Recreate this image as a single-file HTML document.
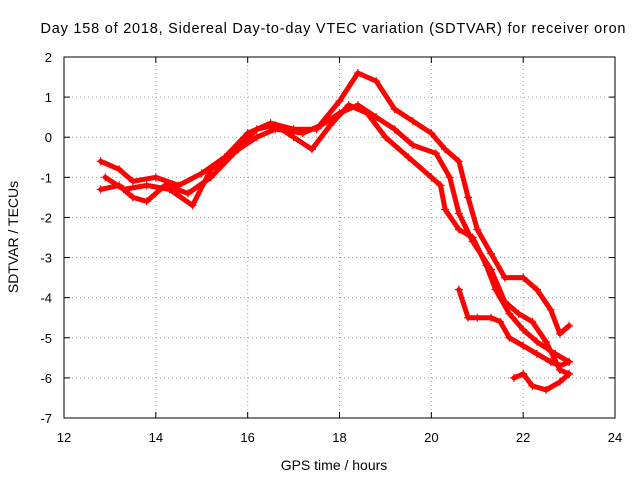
<!DOCTYPE html>
<html><head><meta charset="utf-8"><style>
body{margin:0;background:#fff}
svg{display:block;font-family:"Liberation Sans",sans-serif}
</style></head><body>
<svg id="chart" width="640" height="480">
<text x="333" y="33" text-anchor="middle" font-size="14.5" textLength="585" lengthAdjust="spacing">Day 158 of 2018, Sidereal Day-to-day VTEC variation (SDTVAR) for receiver oron</text>
<g id="grid"></g>
<g id="ticks"></g>
<g id="series"></g>
<rect x="64" y="57" width="551" height="361" fill="none" stroke="#000" stroke-width="1"/>
<text x="334" y="470" text-anchor="middle" font-size="14">GPS time / hours</text>
<text transform="translate(18,237) rotate(-90)" text-anchor="middle" font-size="14">SDTVAR / TECUs</text>
</svg>
<script>
const xTicks=[12,14,16,18,20,22,24];
const yTicks=[2,1,0,-1,-2,-3,-4,-5,-6,-7];
const traceA=[[12.8,-0.6],[13.2,-0.8],[13.5,-1.1],[14,-1.0],[14.5,-1.2],[15,-0.9],[15.5,-0.5],[16,0.1],[16.5,0.35],[17,0.2],[17.5,0.2],[18,0.9],[18.4,1.6],[18.8,1.4],[19.2,0.7],[19.6,0.4],[20,0.1],[20.3,-0.3],[20.6,-0.6],[20.8,-1.5],[21,-2.3],[21.3,-2.9],[21.6,-3.5],[22,-3.5],[22.3,-3.8],[22.6,-4.3],[22.8,-4.9],[23,-4.7]];
const traceB=[[12.8,-1.3],[13.2,-1.2],[13.5,-1.5],[13.8,-1.6],[14.2,-1.2],[14.7,-1.4],[15.2,-1.0],[15.7,-0.4],[16.2,0.2],[16.6,0.3],[17,0.0],[17.4,-0.3],[17.8,0.3],[18.2,0.8],[18.6,0.6],[19,0.0],[19.5,-0.5],[20,-1.0],[20.2,-1.2],[20.3,-1.8],[20.6,-2.3],[20.9,-2.5],[21.2,-3.2],[21.4,-3.8],[21.7,-4.4],[22,-4.8],[22.3,-5.1],[22.7,-5.4],[23,-5.6]];
const traceC=[[12.9,-1.0],[13.3,-1.3],[13.8,-1.2],[14.3,-1.3],[14.8,-1.7],[15.2,-0.8],[15.8,-0.3],[16.2,0.0],[16.6,0.2],[17.2,0.1],[17.6,0.3],[18,0.6],[18.4,0.8],[18.8,0.5],[19.2,0.2],[19.6,-0.2],[20.1,-0.4],[20.4,-1.0],[20.6,-1.9],[20.9,-2.6],[21.3,-3.3],[21.6,-4.1],[21.9,-4.4],[22.2,-4.6],[22.5,-5.1],[22.8,-5.8],[23,-5.9]];
const traceD=[[20.6,-3.8],[20.8,-4.5],[21,-4.5],[21.3,-4.5],[21.5,-4.6],[21.7,-5.0],[22,-5.2],[22.3,-5.4],[22.6,-5.6],[22.8,-5.7],[23,-5.6]];
const traceE=[[21.8,-6.0],[22,-5.9],[22.2,-6.2],[22.5,-6.3],[22.8,-6.1],[23,-5.9]];
const traces=[traceA,traceB,traceC,traceD,traceE];
const NS="http://www.w3.org/2000/svg";
const X0=64,X1=615,Y0=418,Y1=57;
const xs=v=>X0+(v-12)/12*(X1-X0);
const ys=v=>Y0-(v+7)/9*(Y0-Y1);
function mk(t,a,p){const e=document.createElementNS(NS,t);for(const k in a)e.setAttribute(k,a[k]);p.appendChild(e);return e;}
const grid=document.getElementById('grid'),ticks=document.getElementById('ticks'),ser=document.getElementById('series');
xTicks.forEach(v=>{const x=xs(v);
 if(v>12&&v<24){const g=mk('line',{x1:x,x2:x,y1:Y1,y2:Y0,stroke:'#999','stroke-dasharray':'1,3'},grid);
 
 }
 mk('line',{x1:x,x2:x,y1:Y0,y2:Y0-6,stroke:'#000'},ticks);
 mk('line',{x1:x,x2:x,y1:Y1,y2:Y1+6,stroke:'#000'},ticks);
 const t=mk('text',{x:x,y:442,'text-anchor':'middle','font-size':13},ticks);t.textContent=v;
 
 });
yTicks.forEach(v=>{const y=ys(v);
 if(v>-7&&v<2){const g=mk('line',{x1:X0,x2:X1,y1:y,y2:y,stroke:'#999','stroke-dasharray':'1,3'},grid);
 
 }
 mk('line',{x1:X0,x2:X0+6,y1:y,y2:y,stroke:'#000'},ticks);
 mk('line',{x1:X1,x2:X1-6,y1:y,y2:y,stroke:'#000'},ticks);
 const t=mk('text',{x:52,y:y+5,'text-anchor':'end','font-size':13},ticks);t.textContent=v;
 
 });
traces.forEach((tr,i)=>{
 const d=tr.map((p,j)=>(j?'L':'M')+xs(p[0]).toFixed(1)+','+ys(p[1]).toFixed(1)).join('');
 const path=mk('path',{d:d,fill:'none',stroke:'#f00','stroke-width':5,'stroke-linejoin':'round','stroke-linecap':'round'},ser);
 
 
 tr.forEach(p=>{const x=xs(p[0]),y=ys(p[1]);
  const m=mk('path',{d:`M${x-4},${y}H${x+4}M${x},${y-4}V${y+4}`,stroke:'#f00','stroke-width':1.2},ser);
  
  });
});
</script>
</body></html>
